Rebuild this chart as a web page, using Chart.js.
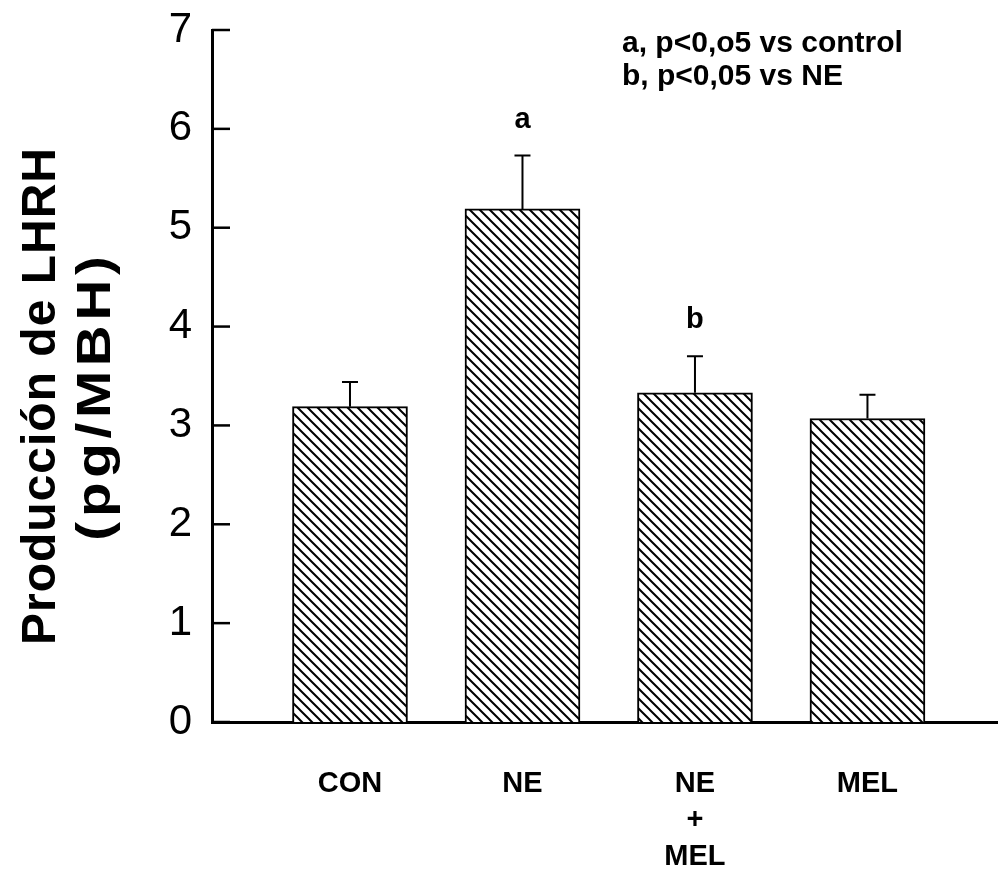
<!DOCTYPE html>
<html><head><meta charset="utf-8">
<script src="https://cdn.jsdelivr.net/npm/chart.js@4/dist/chart.umd.min.js"></script>
<style>html,body{margin:0;padding:0;background:#fff;} canvas{display:block;}</style>
</head><body>
<canvas id="c" width="999" height="871"></canvas>
<script>
// ---- data ----
const categories = [['CON'], ['NE'], ['NE', '+', 'MEL'], ['MEL']];
const positions = [1, 2, 3, 4];
const means = [3.19, 5.19, 3.33, 3.07];
const sem = [0.25, 0.54, 0.37, 0.24];
const sigLetters = ['', 'a', 'b', ''];
const yTicks = [0, 1, 2, 3, 4, 5, 6, 7];
const yTitle = ['Producción de LHRH', '(pg/MBH)'];
const notes = ['a, p<0,o5 vs control', 'b, p<0,05 vs NE'];

const FONT = '"Liberation Sans", Arial, Helvetica, sans-serif';

function hatch() {
  const s = 10;
  const c = document.createElement('canvas'); c.width = s; c.height = s;
  const g = c.getContext('2d');
  g.fillStyle = '#fff'; g.fillRect(0, 0, s, s);
  g.strokeStyle = '#000'; g.lineWidth = 2;
  g.beginPath();
  g.moveTo(-2, -2); g.lineTo(s + 2, s + 2);
  g.moveTo(-2, s - 2); g.lineTo(2, s + 2);
  g.moveTo(s - 2, -2); g.lineTo(s + 2, 2);
  g.stroke();
  return g.createPattern(c, 'repeat');
}

const extras = {
  id: 'extras',
  beforeDraw(chart) {
    const ctx = chart.ctx;
    ctx.save(); ctx.fillStyle = '#fff'; ctx.fillRect(0, 0, chart.width, chart.height); ctx.restore();
  },
  afterDatasetsDraw(chart) {
    const ctx = chart.ctx, xs = chart.scales.x, ys = chart.scales.y;
    ctx.save();
    ctx.strokeStyle = '#000';
    ctx.lineWidth = 2;
    // error bars (upper only)
    positions.forEach((p, i) => {
      const x = xs.getPixelForValue(p);
      const y0 = ys.getPixelForValue(means[i]);
      const y1 = ys.getPixelForValue(means[i] + sem[i]);
      ctx.beginPath();
      ctx.moveTo(x, y0); ctx.lineTo(x, y1);
      ctx.moveTo(x - 8, y1); ctx.lineTo(x + 8, y1);
      ctx.stroke();
    });
    // inward tick marks on y axis
    ctx.lineWidth = 2.5;
    yTicks.forEach(v => {
      const y = ys.getPixelForValue(v);
      ctx.beginPath();
      ctx.moveTo(xs.left, y); ctx.lineTo(xs.left + 18, y);
      ctx.stroke();
    });
    // significance letters
    ctx.fillStyle = '#000';
    ctx.font = 'bold 29px ' + FONT;
    ctx.textAlign = 'center';
    ctx.textBaseline = 'alphabetic';
    positions.forEach((p, i) => {
      if (!sigLetters[i]) return;
      const x = xs.getPixelForValue(p);
      const y = ys.getPixelForValue(means[i] + sem[i]);
      ctx.fillText(sigLetters[i], x, y - 28);
    });
    ctx.restore();
  },
  afterDraw(chart) {
    const ctx = chart.ctx;
    ctx.save();
    ctx.fillStyle = '#000';
    // notes
    ctx.font = 'bold 30px ' + FONT;
    ctx.textAlign = 'left';
    ctx.textBaseline = 'alphabetic';
    ctx.fillText(notes[0], 622, 52);
    ctx.fillText(notes[1], 622, 85);
    // y title
    ctx.font = 'bold 48px ' + FONT;
    ctx.textAlign = 'center';
    ctx.textBaseline = 'middle';
    const cx = [42, 97];
    const spacing = ['1px', '4px'];
    const stretch = [1, 1.18];
    yTitle.forEach((t, i) => {
      ctx.save();
      ctx.letterSpacing = spacing[i];
      ctx.translate(cx[i], 396);
      ctx.rotate(-Math.PI / 2);
      ctx.scale(stretch[i], 1);
      ctx.fillText(t, 0, 0);
      ctx.restore();
    });
    ctx.restore();
  }
};

new Chart(document.getElementById('c'), {
  type: 'bar',
  data: {
    datasets: [{
      data: positions.map((p, i) => ({ x: p, y: means[i] })),
      backgroundColor: hatch(),
      borderColor: '#000',
      borderWidth: 2,
      barThickness: 115
    }]
  },
  options: {
    responsive: false,
    animation: false,
    layout: { padding: { top: 30, right: 2, bottom: 0, left: 0 } },
    plugins: { legend: { display: false }, tooltip: { enabled: false } },
    scales: {
      x: {
        type: 'linear',
        offset: false,
        min: 0.2,
        max: 4.751,
        grid: { display: false, drawTicks: false, offset: false },
        border: { display: true, color: '#000', width: 3 },
        afterBuildTicks: s => { s.ticks = positions.map(v => ({ value: v })); },
        afterFit: s => { s.height = 149; s.paddingLeft = 0; s.paddingRight = 0; },
        ticks: {
          autoSkip: false, maxRotation: 0, minRotation: 0,
          padding: 44,
          color: '#000',
          font: { family: FONT, size: 29, weight: 'bold', lineHeight: 1.25 },
          callback: v => { const i = positions.indexOf(v); return i >= 0 ? categories[i] : ''; }
        }
      },
      y: {
        min: 0, max: 7,
        grid: { display: false, drawTicks: false },
        border: { display: true, color: '#000', width: 3 },
        afterBuildTicks: s => { s.ticks = yTicks.map(v => ({ value: v })); },
        afterFit: s => { s.width = 212; s.paddingTop = 0; s.paddingBottom = 0; },
        ticks: {
          padding: 20,
          color: '#000',
          font: { family: FONT, size: 42 },
          callback: v => String(v)
        }
      }
    }
  },
  plugins: [extras]
});
</script>
</body></html>
